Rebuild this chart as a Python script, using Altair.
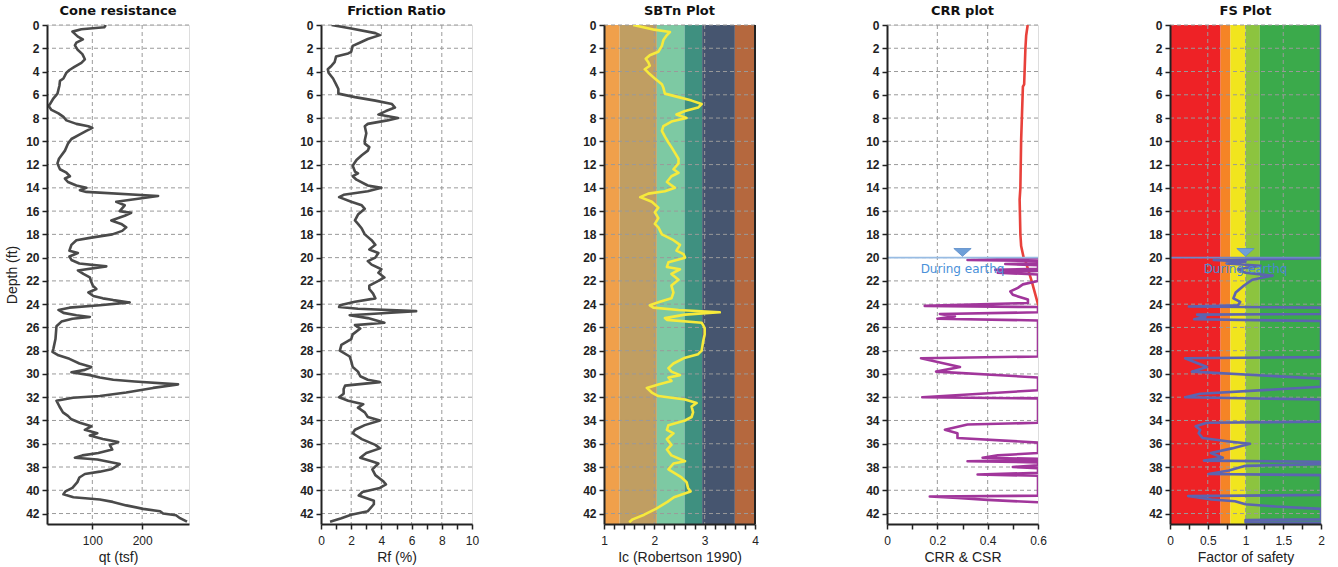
import altair as alt
import pandas as pd

DEPTH_MAX = 42.9
depth_ticks = list(range(0, 43, 2))

# ---------------- Cone resistance ----------------
qt_depth = [0.0, 0.2, 0.37, 0.57, 1.0, 1.23, 1.52, 1.75, 2.1, 2.5, 2.95, 3.25, 3.6, 3.87, 4.1, 4.6, 4.8, 5.2, 5.9,
            6.3, 6.8, 6.95, 7.3, 7.6, 7.9, 8.2, 8.5, 8.7, 8.85, 9.1, 9.4, 9.8, 10.2, 10.8, 11.5, 11.9, 12.4, 12.7,
            13.0, 13.2, 13.5, 13.8, 14.0, 14.2, 14.35, 14.7, 15.2, 15.5, 16.0, 16.15, 16.4, 16.8, 17.1, 17.4, 17.7,
            18.0, 18.3, 18.5, 18.9, 19.4, 19.6, 19.9, 20.2, 20.5, 20.75, 21.1, 21.4, 21.7, 22.1, 22.4, 22.7, 23.0,
            23.3, 23.5, 23.65, 23.85, 24.1, 24.3, 24.5, 24.75, 24.95, 25.1, 25.25, 25.5, 25.9, 27.0, 27.8, 28.1,
            28.4, 28.7, 29.1, 29.4, 29.65, 29.85, 30.1, 30.3, 30.5, 30.65, 30.9, 31.2, 31.6, 31.9, 32.05, 32.3,
            32.8, 33.3, 33.6, 33.9, 34.2, 34.5, 34.8, 35.1, 35.3, 35.6, 35.85, 36.1, 36.5, 36.8, 37.0, 37.2, 37.35,
            37.75, 38.2, 38.4, 38.6, 38.9, 39.3, 39.8, 40.1, 40.35, 40.6, 40.8, 41.0, 41.3, 41.6, 41.8, 42.0,
            42.15, 42.4, 42.7]
qt_value = [127, 124, 78, 60, 71, 81, 68, 65, 70, 80, 85, 78, 64, 54, 48, 42, 35, 34, 30,
            22, 15, 12, 18, 32, 42, 48, 68, 92, 100, 88, 75, 58, 51, 45, 33, 30, 35, 48,
            55, 45, 51, 68, 88, 75, 88, 232, 148, 165, 155, 178, 165, 138, 158, 168, 160,
            140, 95, 68, 58, 54, 71, 54, 58, 74, 128, 71, 82, 95, 98, 101, 108, 92,
            102, 121, 142, 175, 115, 54, 32, 42, 68, 95, 60, 38, 28, 26, 22, 20,
            32, 54, 74, 98, 85, 58, 95, 115, 142, 185, 272, 222, 168, 115, 61, 28,
            34, 41, 51, 58, 75, 98, 85, 110, 95, 121, 152, 135, 140, 112, 80, 65, 110,
            155, 138, 115, 85, 74, 70, 60, 46, 42, 62, 115, 141, 168, 202, 236, 242,
            268, 276, 290]

# ---------------- Friction ratio ----------------
rf_depth = [0.0, 0.3, 0.7, 0.87, 1.2, 1.5, 1.8, 2.3, 2.45, 2.7, 3.2, 3.5, 3.8, 4.1, 4.6, 5.1, 5.5, 5.9, 6.2, 6.5,
            6.8, 7.1, 7.4, 7.7, 8.0, 8.2, 8.5, 8.7, 9.3, 9.9, 10.2, 10.5, 10.8, 11.2, 11.6, 12.1, 12.6, 12.75,
            13.0, 13.3, 13.8, 14.0, 14.3, 14.6, 14.8, 15.2, 15.5, 15.8, 16.3, 16.8, 17.1, 17.5, 18.0, 18.5,
            18.9, 19.3, 19.6, 20.0, 20.3, 20.6, 21.0, 21.3, 21.7, 22.0, 22.4, 22.7, 23.1, 23.5, 23.8, 24.1,
            24.25, 24.4, 24.6, 24.8, 24.95, 25.2, 25.6, 25.8, 26.1, 26.6, 27.0, 27.5, 28.0, 28.5, 28.9, 29.4,
            29.8, 30.2, 30.5, 30.7, 31.0, 31.3, 31.7, 32.0, 32.3, 32.6, 32.9, 33.3, 33.7, 34.0, 34.4, 34.8,
            35.1, 35.6, 36.1, 36.4, 36.8, 37.2, 37.5, 37.7, 38.2, 38.7, 39.2, 39.5, 39.8, 40.15, 40.45, 40.9,
            41.2, 41.8, 42.1, 42.4, 42.7]
rf_value = [0.7, 2.0, 3.6, 3.9, 3.1, 2.6, 2.1, 2.0, 1.8, 1.0, 0.9, 0.7, 0.45, 0.5, 0.8, 1.0, 1.15, 1.15, 2.25, 3.6,
            4.7, 4.9, 4.3, 3.8, 5.1, 4.4, 3.1, 2.9, 3.0, 2.9, 2.9, 3.2, 3.1, 2.7, 2.35, 2.1, 2.25, 2.45,
            2.1, 2.35, 3.1, 4.0, 3.1, 1.5, 1.2, 2.0, 2.7, 2.9, 2.45, 2.25, 2.45, 2.7, 2.9, 3.35,
            3.6, 3.2, 3.8, 3.6, 3.1, 3.35, 4.0, 3.8, 4.2, 3.8, 3.2, 3.2, 3.45, 3.6, 2.25, 1.25,
            1.2, 2.45, 6.3, 3.8, 1.9, 3.1, 4.2, 2.25, 2.6, 2.1, 2.0, 1.35, 1.25, 1.9, 2.0, 2.1,
            2.45, 2.6, 3.1, 3.9, 1.6, 1.5, 1.5, 1.2, 1.8, 2.8, 2.45, 2.9, 3.1, 3.9, 2.9, 2.25,
            2.1, 2.7, 3.6, 3.9, 3.0, 2.6, 3.35, 3.8, 3.4, 3.6, 4.1, 4.3, 3.9, 2.75, 2.5, 3.5,
            3.5, 3.1, 2.0, 1.35, 0.6]

# ---------------- SBTn (Ic) ----------------
ic_depth = [0.0, 0.4, 0.6, 0.87, 1.3, 1.8, 2.3, 2.6, 2.9, 3.2, 3.5, 3.8, 4.1, 4.6, 5.1, 5.4, 5.9, 6.2, 6.5, 6.8,
            7.1, 7.4, 7.7, 8.0, 8.3, 8.7, 9.1, 9.6, 10.1, 10.5, 11.0, 11.5, 11.9, 12.4, 12.7, 13.0, 13.5, 14.0,
            14.3, 14.5, 14.8, 15.2, 15.7, 16.1, 16.6, 17.1, 17.4, 18.0, 18.5, 18.9, 19.4, 19.7, 20.0, 20.4,
            20.8, 21.0, 21.4, 21.9, 22.4, 23.0, 23.5, 23.8, 24.1, 24.3, 24.5, 24.7, 24.9, 25.2, 25.35, 25.6,
            25.8, 26.1, 26.6, 27.2, 28.0, 28.3, 28.6, 29.1, 29.5, 29.8, 30.1, 30.3, 30.6, 30.9, 31.2, 31.6,
            31.9, 32.2, 32.5, 32.8, 33.3, 33.7, 34.0, 34.4, 34.8, 35.1, 35.6, 36.1, 36.5, 37.0, 37.5, 37.7,
            38.2, 38.9, 39.3, 39.8, 40.1, 40.3, 40.6, 41.0, 41.6, 42.1, 42.5, 42.75]
ic_value = [1.58, 2.0, 2.31, 2.25, 2.18, 2.15, 2.08, 1.91, 1.83, 1.88, 1.91, 1.81, 1.88, 2.01, 2.15, 2.18, 2.21, 2.48, 2.74, 2.94,
            2.87, 2.61, 2.44, 2.64, 2.34, 2.18, 2.15, 2.21, 2.28, 2.34, 2.41, 2.48, 2.48, 2.38, 2.48, 2.34, 2.25, 2.41,
            2.21, 1.88, 1.72, 1.95, 2.08, 2.01, 2.08, 2.01, 2.08, 2.15, 2.38, 2.51, 2.44, 2.58, 2.61, 2.28,
            2.25, 2.51, 2.34, 2.48, 2.34, 2.38, 2.34, 2.11, 1.91, 1.98, 2.48, 3.30, 2.61, 2.21, 2.25, 2.94,
            2.97, 3.0, 3.0, 2.97, 2.94, 2.87, 2.61, 2.38, 2.28, 2.34, 2.51, 2.28, 2.34, 2.08, 1.85, 1.95,
            2.08, 2.61, 2.84, 2.74, 2.77, 2.74, 2.61, 2.28, 2.25, 2.38, 2.25, 2.34, 2.25, 2.34, 2.61, 2.38,
            2.28, 2.54, 2.64, 2.67, 2.72, 2.59, 2.39, 2.26, 2.03, 1.80, 1.57, 1.5]
sbt_start = [1.0, 1.31, 2.05, 2.6, 2.95, 3.6]
sbt_end = [1.31, 2.05, 2.6, 2.95, 3.6, 4.0]
sbt_color = ["#F0A04B", "#C09E62", "#7DC9A3", "#3F9080", "#46556F", "#B5683E"]

# ---------------- CRR / CSR ----------------
csr_depth = [0.0, 0.9, 2.0, 5.1, 5.3, 9.9, 14.0, 15.0, 18.0, 19.0, 20.0, 20.4, 22.1, 24.0, 25.0]
csr_value = [0.559, 0.553, 0.55, 0.545, 0.54, 0.533, 0.53, 0.527, 0.53, 0.533, 0.543, 0.552, 0.576, 0.6, 0.62]
crr_depth = [20.05, 20.2, 20.3, 20.5, 20.55, 20.65, 20.95, 21.05, 21.15, 21.3, 21.45, 22.0, 22.3, 22.6, 22.9,
             23.2, 23.6, 23.9, 24.15, 24.25, 24.7, 24.85, 25.05, 25.25, 25.4, 28.5, 28.65, 29.4, 29.8, 30.3,
             31.4, 32.0, 32.1, 34.2, 34.35, 34.8, 35.1, 35.5, 35.9, 36.8, 37.0, 37.2, 37.3, 37.4, 37.5, 37.6,
             37.85, 38.0, 38.1, 38.5, 38.65, 38.75, 40.47, 40.53, 40.67, 40.83, 41.03]
crr_value = [0.6, 0.32, 0.6, 0.6, 0.47, 0.6, 0.6, 0.43, 0.6, 0.44, 0.6, 0.6, 0.54, 0.52, 0.49,
             0.5, 0.56, 0.56, 0.15, 0.6, 0.6, 0.21, 0.27, 0.2, 0.6, 0.6, 0.135, 0.29, 0.195, 0.6,
             0.6, 0.14, 0.6, 0.6, 0.32, 0.23, 0.28, 0.28, 0.6, 0.6, 0.44, 0.38, 0.6, 0.6, 0.32, 0.6,
             0.6, 0.5, 0.6, 0.6, 0.36, 0.6, 0.6, 0.17, 0.28, 0.4, 0.6]

# ---------------- Factor of safety ----------------
fs_depth = [0.0, 20.05, 20.2, 20.35, 20.5, 20.7, 21.0, 21.3, 21.55, 21.9, 22.4, 23.0, 23.5, 23.8, 24.1, 24.2,
            24.3, 24.85, 24.9, 25.1, 25.3, 25.45, 28.55, 28.65, 29.4, 29.8, 30.4, 31.1, 31.7, 32.0, 32.2, 34.1,
            34.2, 34.5, 34.8, 35.1, 35.5, 35.8, 36.0, 36.4, 36.8, 37.2, 37.45, 37.55, 37.75, 37.9, 38.3, 38.6,
            38.7, 40.4, 40.5, 40.8, 40.95, 41.2, 41.4, 41.6, 42.5, 42.55, 42.75, 42.8]
fs_value = [2.0, 2.0, 0.58, 1.0, 0.75, 1.2, 0.9, 1.0, 1.36, 1.09, 0.98, 0.87, 0.84, 0.93, 0.9, 0.25,
            2.0, 2.0, 0.36, 0.47, 0.32, 2.0, 2.0, 0.2, 0.49, 0.29, 2.0, 2.0, 0.4, 0.2, 2.0, 2.0,
            0.49, 0.34, 0.4, 0.38, 0.43, 0.78, 1.06, 0.82, 0.54, 0.7, 0.45, 2.0, 2.0, 1.0, 0.78, 0.51,
            2.0, 2.0, 0.24, 0.55, 0.86, 1.0, 1.4, 2.0, 2.0, 1.0, 1.0, 2.0]
fs_start = [0.0, 0.67, 0.8, 1.0, 1.19]
fs_end = [0.67, 0.8, 1.0, 1.19, 2.0]
fs_color = ["#EE2226", "#F58426", "#F1E51E", "#8CC43F", "#3BAA4B"]

water_depth = 20.0
water_label = "During earthq"

FONT = "DejaVu Sans"
H = 499
GRID = dict(strokeDash=[4, 3], color="#9a9a9a", strokeWidth=1)
AXC = "#222"


def ysc():
    return alt.Scale(domain=[0, DEPTH_MAX], reverse=True, nice=False, zero=False)


def yax(show_title):
    kw = dict(values=depth_ticks, grid=False, labelFontWeight="bold", labelFontSize=12, labelOverlap=False,
              labelBound=False, labelColor=AXC, tickColor=AXC, tickSize=5, tickWidth=1.5, zindex=1,
              domainColor=AXC, domainWidth=2, labelPadding=3, format="d")
    if show_title:
        kw.update(title="Depth (ft)", titleFontSize=14, titleFontWeight="normal", titleColor=AXC,
                  titlePadding=6)
    else:
        kw.update(title=None)
    return alt.Axis(**kw)


def panel(title, xdom, xtitle, xvals, label_expr, xgrid, width, show_ytitle, under=None, lines=(), over=None,
          right_rule=False):
    xs = alt.Scale(domain=xdom, nice=False, zero=False)
    xa = alt.Axis(values=xvals, labelExpr=label_expr, grid=False, title=xtitle, format="~r",
                  labelOverlap=False, labelBound=False, labelFontSize=12, labelColor=AXC, titleFontSize=14,
                  titleFontWeight="normal", titleColor=AXC, tickColor=AXC, tickSize=5, tickWidth=1.5,
                  domainColor=AXC, domainWidth=2, labelPadding=6, titlePadding=4, labelFlush=False, zindex=1)
    ya = yax(show_ytitle)

    def X(field):
        return alt.X(field, scale=xs, axis=xa)

    def Y(field):
        return alt.Y(field, scale=ysc(), axis=ya)

    layers = []
    if under is not None:
        layers.append(under(X, Y))
    hg = alt.Chart(pd.DataFrame({"depth": depth_ticks})).mark_rule(**GRID).encode(y=Y("depth:Q"))
    vg = alt.Chart(pd.DataFrame({"x": xgrid})).mark_rule(**GRID).encode(x=X("x:Q"))
    layers += [hg, vg]
    for d, v, color in lines:
        df = pd.DataFrame({"depth": d, "x": v, "o": list(range(len(d)))})
        layers.append(alt.Chart(df).mark_line(color=color, strokeWidth=2.6, clip=True,
                                              strokeJoin="round").encode(
            x=X("x:Q"), y=Y("depth:Q"), order="o:Q"))
    if right_rule:
        layers.append(alt.Chart(pd.DataFrame({"x": [xdom[1]]})).mark_rule(color=AXC, strokeWidth=2).encode(
            x=X("x:Q")))
    if over is not None:
        layers += over(X, Y)
    return alt.layer(*layers).properties(
        width=width, height=H,
        title=alt.TitleParams(title, fontSize=13, fontWeight="bold", font=FONT, color="#111", offset=1))


def bands(starts, ends, colors):
    def f(X, Y):
        df = pd.DataFrame({"x": starts, "x2": ends, "c": colors, "d0": [0.0] * len(starts),
                           "d1": [DEPTH_MAX] * len(starts)})
        return alt.Chart(df).mark_rect(strokeWidth=0).encode(
            x=X("x:Q"), x2="x2:Q", y=Y("d0:Q"), y2="d1:Q",
            color=alt.Color("c:N", scale=None))
    return f


def water(xpos, line_color, text_color, xdom):
    def f(X, Y):
        wl = pd.DataFrame({"x": [xdom[0]], "x2": [xdom[1]], "depth": [water_depth]})
        rule = alt.Chart(wl).mark_rule(color=line_color, strokeWidth=1.6).encode(
            x=X("x:Q"), x2="x2:Q", y=Y("depth:Q"))
        tri = alt.Chart(pd.DataFrame({"x": [xpos], "depth": [water_depth - 0.45]})).mark_point(
            shape="M-1,-0.45L1,-0.45L0,0.45Z", filled=True, size=300, color="#6E9FD8", opacity=1,
            stroke="#5A8CC8", strokeWidth=0.8).encode(x=X("x:Q"), y=Y("depth:Q"))
        txt = alt.Chart(pd.DataFrame({"x": [xpos], "depth": [water_depth + 0.95], "t": [water_label]})).mark_text(
            font=FONT, fontSize=12, color=text_color, align="center", baseline="middle").encode(
            x=X("x:Q"), y=Y("depth:Q"), text="t:N")
        return [rule, tri, txt]
    return f


p1 = panel("Cone resistance", [9, 294], "qt (tsf)", [100, 200], "datum.label", [100, 200], 142, True,
           lines=[(qt_depth, qt_value, "#4a4a4a")])
p2 = panel("Friction Ratio", [0, 10], "Rf (%)", list(range(0, 11)),
           "datum.value % 2 == 0 ? datum.label : ''", [2, 4, 6, 8], 151, False,
           lines=[(rf_depth, rf_value, "#4a4a4a")])
p3 = panel("SBTn Plot", [1, 4], "Ic (Robertson 1990)", [round(1 + i * 0.2, 1) for i in range(16)],
           "abs(datum.value - round(datum.value)) < 0.001 ? format(datum.value, '~r') : ''", [2, 3], 151, False,
           under=bands(sbt_start, sbt_end, sbt_color), lines=[(ic_depth, ic_value, "#F6EA3C")], right_rule=True)
p4 = panel("CRR plot", [0, 0.6], "CRR & CSR", [round(i * 0.1, 1) for i in range(7)],
           "abs(datum.value * 5 - round(datum.value * 5)) < 0.001 ? format(datum.value, '~r') : ''",
           [0.2, 0.4], 151, False,
           lines=[(csr_depth, csr_value, "#E8413B"), (crr_depth, crr_value, "#A1369B")],
           over=water(0.3, "#98BCE3", "#4A90D9", [0, 0.6]))
p5 = panel("FS Plot", [0, 2], "Factor of safety", [i * 0.25 for i in range(9)],
           "abs(datum.value * 2 - round(datum.value * 2)) < 0.001 ? format(datum.value, '~r') : ''",
           [0.5, 1, 1.5], 151, False,
           under=bands(fs_start, fs_end, fs_color), lines=[(fs_depth, fs_value, "#5C64B0")],
           over=water(1.0, "#6F86C8", "#4A88D0", [0, 2]))

chart = alt.hconcat(p1, p2, p3, p4, p5, spacing=132, bounds="flush").configure_view(
    stroke=AXC, strokeWidth=2).configure_axis(labelFont=FONT, titleFont=FONT, labelOverlap=False).configure(
    background="white", padding={"left": 5, "top": 4, "right": 5, "bottom": 3})

chart.save("out.html", embed_options={"renderer": "svg", "actions": False})
